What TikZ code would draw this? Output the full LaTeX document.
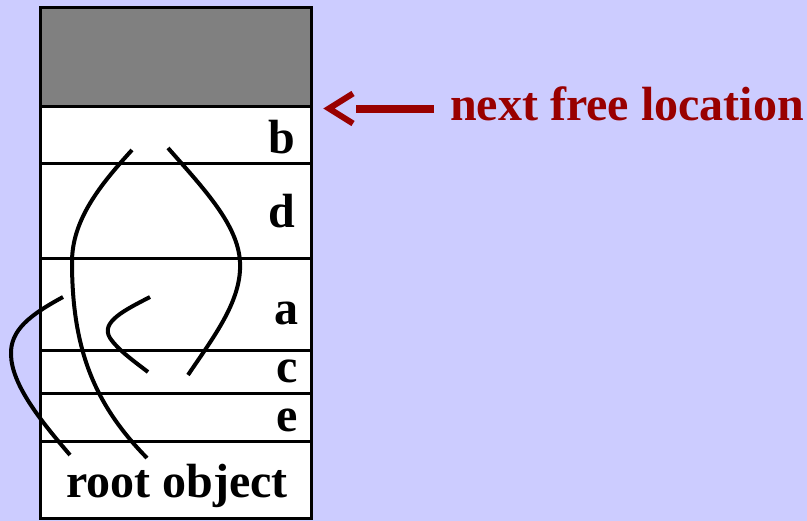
\documentclass[tikz,border=0pt]{standalone}
\usepackage{fontspec}
\setmainfont{Liberation Serif}
\definecolor{bg}{RGB}{204,204,255}
\definecolor{darkred}{RGB}{153,0,0}
\definecolor{cellgray}{RGB}{128,128,128}
\begin{document}
\begin{tikzpicture}[x=1pt,y=-1pt,
  cell/.style={draw=black,line width=3pt,fill=white},
  lab/.style={font=\fontsize{48}{50}\selectfont\bfseries,inner sep=0pt},
  ptr/.style={draw=black,line width=4pt},
]
\useasboundingbox (0,0) rectangle (807,521);
\fill[bg] (0,0) rectangle (807,521);
% cells
\draw[cell,fill=cellgray] (40,8) rectangle (311,107);
\draw[cell] (40,107) rectangle (311,164);
\draw[cell] (40,164) rectangle (311,259);
\draw[cell] (40,259) rectangle (311,351);
\draw[cell] (40,351) rectangle (311,394);
\draw[cell] (40,394) rectangle (311,442);
\draw[cell] (40,442) rectangle (311,519);
% labels
\node[lab,anchor=base east] (b) at (295,154) {b};
\node[lab,anchor=base east] (d) at (295,228) {d};
\node[lab,anchor=base east] (a) at (299,325) {a};
\node[lab,anchor=base east] (c) at (298,383) {c};
\node[lab,anchor=base east] (e) at (298,432) {e};
\node[lab,anchor=base] (root) at (177,498) {root object};
% pointers
\draw[ptr] (132,150) .. controls (100,185) and (72,220) .. (72,262)
  .. controls (72,350) and (95,405) .. (147,458);
\draw[ptr] (168,148) .. controls (205,190) and (238,225) .. (240,262)
  .. controls (242,300) and (215,335) .. (188,375);
\draw[ptr] (150,297) .. controls (125,310) and (100,322) .. (110,338)
  .. controls (118,350) and (135,362) .. (148,372);
\draw[ptr] (63,297) .. controls (30,315) and (10,330) .. (11,355)
  .. controls (12,385) and (40,420) .. (70,455);
% next free location
\node[lab,text=darkred,anchor=base west,inner xsep=16pt] (nfl) at (434,121) {next free location};
\coordinate (shaftend) at (356,109);
\coordinate (tip) at (329,108.5);
\draw[darkred,line width=8pt] (nfl.west |- shaftend) -- (shaftend);
\draw[darkred,line width=6pt,miter limit=10] ([shift={(24,-15)}]tip) -- (tip) -- ([shift={(24,15)}]tip);
\end{tikzpicture}
\end{document}
